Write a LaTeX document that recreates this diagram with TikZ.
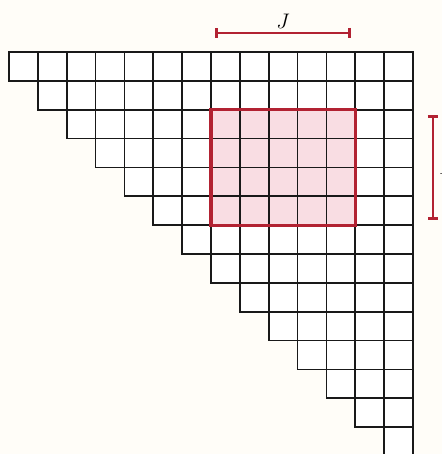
\documentclass[tikz,border=0pt]{standalone}
\usetikzlibrary{arrows.meta}
\definecolor{paper}{HTML}{FFFDF8}
\definecolor{blockred}{HTML}{B22232}
\definecolor{blockpink}{HTML}{F9DDE3}
\tikzset{
  cell/.style={draw=black!90, fill=white, line width=1.7pt},
  block/.style={draw=blockred, fill=blockpink, line width=3pt},
  span/.style={draw=blockred, line width=2.6pt, {Bar[width=10pt]}-{Bar[width=10pt]}},
  spanlabel/.style={font=\huge, inner sep=1pt}
}
\begin{document}
\begin{tikzpicture}
    \fill[paper] (-0.31,1.8) rectangle (15.0,-13.93);
    \useasboundingbox (-0.31,1.8) rectangle (15.0,-13.93);

    % staircase of cells
    \foreach \i in {0,...,13} {
        \foreach \j in {\i,...,13} {
            \draw[cell] (\j,-\i) rectangle ++(1,-1);
        }
    }

    % the block
    \filldraw[block] (7,-2) rectangle (12,-6);
    \foreach \j in {8,...,11} {
        \draw[cell, fill=none] (\j,-2) -- (\j,-6);
    }
    \foreach \i in {3,...,5} {
        \draw[cell, fill=none] (7,-\i) -- (12,-\i);
    }
    \draw[block, fill=none] (7,-2) rectangle (12,-6);

    % spans
    \coordinate (jl) at (7.14,0.66);
    \coordinate (jr) at (11.85,0.66);
    \draw[span] (jl) -- (jr) node[midway, above=2pt, spanlabel] (jlab) {$J$};

    \coordinate (it) at (14.69,-2.18);
    \coordinate (ib) at (14.69,-5.82);
    \draw[span] (it) -- (ib) node[midway, right=4pt, spanlabel] (ilab) {$I$};
\end{tikzpicture}
\end{document}
